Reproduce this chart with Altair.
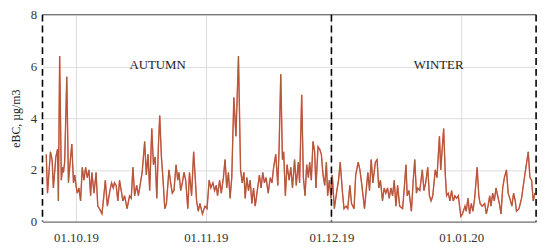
import altair as alt
import pandas as pd

# days since 2019-09-23 00:00 and eBC values (µg/m3)
days = [
    0.9, 1.2, 1.9, 2.3, 2.6, 3.2, 3.6, 3.8, 4.1, 4.5, 4.8, 5.0, 5.3, 5.8, 6.2, 6.5, 7.0, 7.4, 7.7, 8.0,
    8.3, 8.7, 9.1, 9.5, 9.9, 10.3, 10.7, 11.1, 11.5, 11.8, 12.3, 12.8, 13.2, 13.6, 14.2, 14.6, 15.0, 15.5, 16.1, 16.5,
    16.9, 17.2, 17.6, 18.0, 18.4, 18.8, 19.2, 19.6, 20.2, 20.8, 21.2, 21.6, 22.0, 22.5, 22.9, 23.4, 23.8, 24.4, 24.8, 25.2,
    25.6, 26.1, 26.5, 26.9, 27.3, 27.7, 28.0, 28.4, 28.8, 29.2, 29.6, 30.2, 30.6, 31.0, 31.4, 31.9, 32.3, 32.6, 33.0, 33.4,
    33.8, 34.2, 34.7, 35.1, 35.6, 36.1, 36.4, 36.8, 37.2, 37.6, 38.2, 38.8, 39.3,
    39.8, 40.2, 40.7, 41.1, 41.5, 41.8, 42.3, 42.7, 43.2, 43.6, 44.0, 44.4, 44.8, 45.2, 45.7, 46.2, 46.8, 47.3, 47.7, 48.1,
    48.4, 48.8, 49.2, 49.6, 50.0, 50.4, 50.8, 51.3, 51.8, 52.2, 52.6, 53.0, 53.4, 53.9, 54.4, 54.8, 55.2, 55.7, 56.2, 56.5,
    56.9, 57.3, 57.6, 58.0, 58.4, 58.9, 59.3, 59.7, 60.2, 60.6, 61.1, 61.4, 61.9, 62.3, 62.7, 63.1, 63.5, 63.8, 64.2, 64.6,
    65.0, 65.3, 65.8, 66.2, 66.6, 67.0, 67.4, 67.8, 68.1, 68.5, 68.9, 69.2, 69.7, 70.3, 70.7, 71.1, 71.6, 72.0, 72.5, 72.9,
    73.4, 73.8, 74.4,
    74.8, 75.4, 75.8, 76.2, 76.9, 77.7, 78.1, 78.5, 78.9, 79.5, 79.9, 80.3, 80.7, 81.2, 81.6, 82.0, 82.4, 82.8, 83.2, 83.6,
    84.0, 84.4, 84.8, 85.3, 86.0, 86.4, 86.8, 87.1, 87.5, 88.1, 88.5, 88.9, 89.3, 89.6, 90.1, 90.7, 91.1, 91.5, 92.0, 92.4,
    92.8, 93.2, 93.8, 94.2, 94.8, 95.1, 95.8, 96.2, 96.5, 96.9, 97.3, 97.7, 98.1, 98.5, 98.9, 99.3, 99.9, 100.3, 100.9, 101.2,
    101.6, 102.0, 102.4, 102.8, 103.2, 103.8, 104.2, 104.5, 105.0, 105.6, 106.0, 106.4, 106.8, 107.1, 107.5, 107.9, 108.3, 108.7, 109.1, 109.5,
    109.9, 110.3, 110.8, 111.2, 111.6, 112.1, 112.5, 112.9, 113.2, 113.8, 114.4, 115.0, 116.0, 116.4, 116.8, 117.2, 117.6,
]
ebc = [
    2.6, 1.1, 2.7, 2.4, 1.3, 2.5, 2.8, 0.8, 6.4, 1.6, 2.1, 1.9, 2.3, 5.6, 1.5, 2.1, 3.0, 1.5, 1.8, 1.4,
    1.1, 1.3, 0.8, 2.1, 1.6, 2.1, 1.7, 2.0, 1.0, 1.9, 1.1, 1.9, 0.6, 0.5, 0.3, 0.9, 1.6, 0.6, 1.2, 1.5,
    1.3, 1.5, 1.4, 0.8, 1.6, 1.2, 0.8, 1.0, 0.5, 1.0, 0.9, 2.1, 1.0, 1.4, 1.0, 1.5, 1.9, 3.1, 1.8, 2.6,
    1.2, 3.6, 2.2, 2.5, 0.9, 3.0, 4.1, 2.5, 1.6, 0.5, 0.7, 2.0, 1.5, 1.1, 1.2, 2.2, 1.6, 1.9, 1.2, 1.5,
    1.9, 1.6, 0.5, 1.9, 1.0, 2.7, 1.9, 0.8, 0.4, 0.7, 0.3, 0.6, 0.5,
    1.6, 1.3, 1.5, 1.2, 1.4, 1.0, 1.6, 1.1, 1.7, 2.4, 1.3, 1.9, 0.9, 1.7, 4.8, 3.3, 6.4, 2.0, 1.5, 1.9,
    0.9, 1.7, 1.2, 1.6, 0.7, 1.3, 0.6, 1.2, 1.8, 1.3, 1.9, 1.5, 1.7, 1.1, 1.7, 1.5, 2.1, 2.6, 1.4, 2.8,
    5.7, 2.4, 2.7, 1.0, 2.2, 1.6, 2.1, 1.3, 2.4, 1.4, 2.3, 1.5, 4.9, 1.7, 1.0, 2.2, 1.7, 2.3, 1.6, 3.1,
    2.7, 1.3, 2.9, 2.8, 2.6, 1.8, 1.4, 2.3, 1.0, 1.6, 0.9, 1.8, 0.5, 1.2, 1.6, 2.3, 1.2, 0.5, 0.6, 0.5,
    1.4, 0.7, 0.5,
    1.8, 2.3, 2.0, 1.5, 0.5, 1.9, 1.2, 2.4, 1.5, 2.3, 2.4, 1.3, 1.6, 0.8, 1.3, 1.1, 1.3, 0.9, 1.3, 1.0,
    1.6, 0.6, 1.4, 0.6, 0.5, 1.3, 2.2, 1.0, 1.2, 0.4, 1.5, 2.4, 1.1, 1.3, 1.2, 2.0, 1.2, 1.5, 2.1, 1.0,
    0.8, 1.0, 2.0, 1.7, 3.3, 2.0, 3.6, 1.8, 1.0, 1.1, 0.8, 1.2, 0.8, 1.0, 0.9, 1.0, 0.2, 0.3, 0.6, 0.4,
    0.9, 0.3, 0.7, 0.4, 0.9, 2.1, 1.0, 0.7, 0.6, 0.7, 0.3, 0.6, 1.0, 0.6, 1.1, 0.8, 1.3, 1.0, 0.7, 0.3,
    1.3, 1.7, 2.0, 1.1, 0.9, 0.6, 1.1, 0.8, 0.4, 0.5, 0.9, 1.6, 2.7, 1.7, 1.6, 0.8, 1.1,
]

start = pd.Timestamp("2019-09-23")
dates = (start + pd.to_timedelta(days, unit="D")).strftime("%Y-%m-%dT%H:%M:%S")
df = pd.DataFrame({"date": list(dates), "value": ebc})

domain_start = alt.DateTime(year=2019, month=9, date=23)
domain_end = alt.DateTime(year=2020, month=1, date=18, hours=21)
tick_dates = [
    alt.DateTime(year=2019, month=10, date=1),
    alt.DateTime(year=2019, month=11, date=1),
    alt.DateTime(year=2019, month=12, date=1),
    alt.DateTime(year=2020, month=1, date=1),
]

bounds = ["2019-09-23T00:00:00", "2019-12-01T00:00:00", "2020-01-18T21:00:00"]
season_names = ["AUTUMN", "WINTER"]
season_dates = ["2019-10-20T12:00:00", "2019-12-26T14:00:00"]
season_y = [6.05, 6.05]

FONT = "Liberation Serif"

x_enc = alt.X(
    "date:T",
    scale=alt.Scale(domain=[domain_start, domain_end]),
    axis=alt.Axis(
        values=tick_dates, format="%d.%m.%y", title=None, grid=True,
        gridColor="#dcdcdc", gridWidth=1, ticks=False, labelFont=FONT,
        labelFontSize=13, labelColor="#333", labelPadding=10,
        domainColor="#555", domainWidth=1, labelFlush=False,
    ),
)
y_enc = alt.Y(
    "value:Q",
    scale=alt.Scale(domain=[0, 8], nice=False),
    axis=alt.Axis(
        values=[0, 2, 4, 6, 8], title="eBC, µg/m3", titleFont=FONT,
        titleFontSize=12, titleFontWeight="normal", titleColor="#222",
        titlePadding=8, grid=True, gridColor="#dcdcdc", ticks=False,
        domain=False, labelFont=FONT, labelFontSize=13, labelColor="#333",
        labelPadding=6,
    ),
)

base = alt.Chart(df)
red = base.mark_line(color="#e8433b", strokeWidth=1.4).encode(x=x_enc, y=y_enc)
brown = base.mark_line(color="#8d6a3c", strokeWidth=0.8, opacity=0.85).encode(x="date:T", y="value:Q")

top = alt.Chart(pd.DataFrame({"v": [8]})).mark_rule(color="#555", strokeWidth=1).encode(y="v:Q")
dashes = alt.Chart(pd.DataFrame({"date": bounds})).mark_rule(
    color="black", strokeWidth=1.6, strokeDash=[7, 4]
).encode(x="date:T")

labels = alt.Chart(pd.DataFrame({"date": season_dates, "v": season_y, "name": season_names})).mark_text(
    font=FONT, fontSize=13, color="#222"
).encode(x="date:T", y="v:Q", text="name:N")

chart = alt.layer(red, brown, top, dashes, labels).properties(
    width=501, height=210,
    autosize=alt.AutoSizeParams(type="none"),
    padding={"left": 35, "top": 5, "right": 6, "bottom": 26},
).configure_view(stroke=None)

chart.save("out.html", embed_options={"renderer": "svg", "actions": False})
